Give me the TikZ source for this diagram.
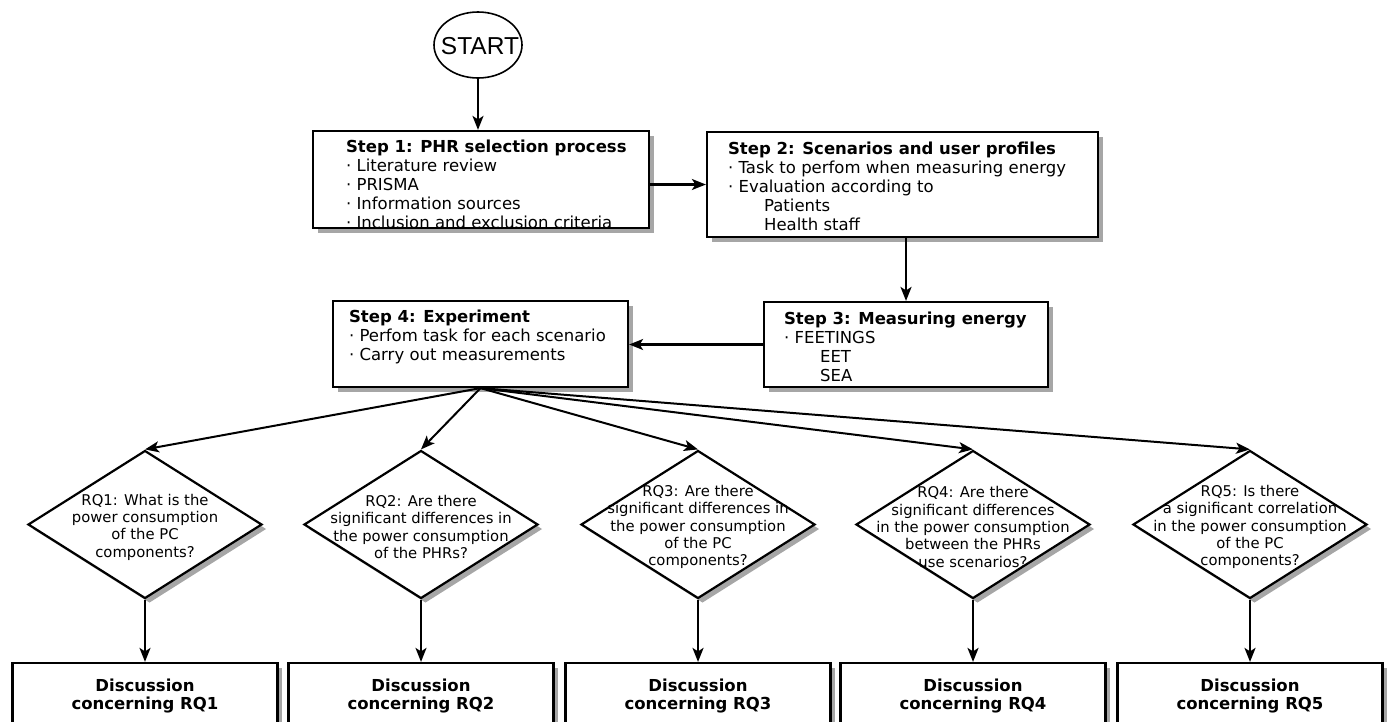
\documentclass[tikz,border=0pt]{standalone}
\usepackage{fontspec}
\setmainfont{DejaVu Sans}
\newfontfamily\startfont{Liberation Sans}
\usetikzlibrary{shapes.geometric,arrows.meta,shadows}
\begin{document}
\begin{tikzpicture}[x=1pt,y=-1pt, line width=2.2pt,
 >={Stealth[length=14pt,width=11pt,inset=3.5pt]},
 shadowed/.style={drop shadow={shadow xshift=4.5pt,shadow yshift=-4.5pt,fill=black!35,opacity=1}},
 stepbox/.style={draw, fill=white, rectangle, inner sep=0pt, shadowed},
 steptext/.style={anchor=north west, align=left, inner sep=0pt, font=\fontsize{16.5}{19}\selectfont},
 qdiam/.style={draw, fill=white, diamond, inner sep=0pt, minimum width=234pt, minimum height=148pt, shadowed},
 qtext/.style={align=center, inner sep=0pt, font=\fontsize{14.8}{17.3}\selectfont},
 discbox/.style={draw, fill=white, rectangle, inner sep=0pt, minimum width=265pt, minimum height=66pt, align=center, font=\bfseries\fontsize{16.5}{18}\selectfont, shadowed},
 conn/.style={->},
 fan/.style={->, line width=2pt}]

\useasboundingbox (0,0) rectangle (1390,721);
\clip (0,0) rectangle (1390,721);

% start
\node[draw, ellipse, minimum width=88pt, minimum height=66pt, inner sep=0pt, line width=1.6pt] (start) at (478,45) {};
\node[font=\startfont\fontsize{24.5}{24.5}\selectfont, inner sep=0pt] (startt) at (480,46) {START};

% steps
\node[stepbox, minimum width=336pt, minimum height=97pt] (s1) at (481,179.5) {};
\node[steptext] (s1t) at (345,139) {\textbf{Step 1: PHR selection process}\\· Literature review\\· PRISMA\\· Information sources\\· Inclusion and exclusion criteria};

\node[stepbox, minimum width=391pt, minimum height=105pt] (s2) at (902.5,184.5) {};
\node[steptext] (s2t) at (727,141) {\textbf{Step 2: Scenarios and user profiles}\\· Task to perfom when measuring energy\\· Evaluation according to\\\hspace*{36pt}Patients\\\hspace*{36pt}Health staff};

\node[stepbox, minimum width=284pt, minimum height=85pt] (s3) at (906,344.5) {};
\node[steptext] (s3t) at (783,311) {\textbf{Step 3: Measuring energy}\\· FEETINGS\\\hspace*{36pt}EET\\\hspace*{36pt}SEA};

\node[stepbox, minimum width=295pt, minimum height=86pt] (s4) at (480.5,344) {};
\node[steptext] (s4t) at (348,309) {\textbf{Step 4: Experiment}\\· Perfom task for each scenario\\· Carry out measurements};

% diamonds
\node[qdiam] (d1) at (145,524.5) {};
\node[qdiam] (d2) at (421,524.5) {};
\node[qdiam] (d3) at (698,524.5) {};
\node[qdiam] (d4) at (973,524.5) {};
\node[qdiam] (d5) at (1250,524.5) {};
\node[qtext] (q1) at (145,527) {RQ1: What is the\\power consumption\\of the PC\\components?};
\node[qtext] (q2) at (421,527) {RQ2: Are there\\significant differences in\\the power consumption\\of the PHRs?};
\node[qtext] (q3) at (698,527) {RQ3: Are there\\significant differences in\\the power consumption\\of the PC\\components?};
\node[qtext] (q4) at (973,527) {RQ4: Are there\\significant differences\\in the power consumption\\between the PHRs\\use scenarios?};
\node[qtext] (q5) at (1250,527) {RQ5: Is there\\a significant correlation\\in the power consumption\\of the PC\\components?};

% discussion boxes
\node[discbox] (r1) at (145,696) {Discussion\\concerning RQ1};
\node[discbox] (r2) at (421,696) {Discussion\\concerning RQ2};
\node[discbox] (r3) at (698,696) {Discussion\\concerning RQ3};
\node[discbox] (r4) at (973,696) {Discussion\\concerning RQ4};
\node[discbox] (r5) at (1250,696) {Discussion\\concerning RQ5};

% connectors
\draw[conn] (start.south) -- (start.south |- s1.north);
\draw[conn] (s2.west -| s1.east) -- (s2.west);
\draw[conn] (s3.north |- s2.south) -- (s3.north);
\draw[conn] (s3.west) -- (s3.west -| s4.east);
\foreach \i in {1,...,5}{
  \draw[fan] (s4.south) -- (d\i.north);
  \draw[conn] (d\i.south) -- (r\i.north);
}
\end{tikzpicture}
\end{document}
